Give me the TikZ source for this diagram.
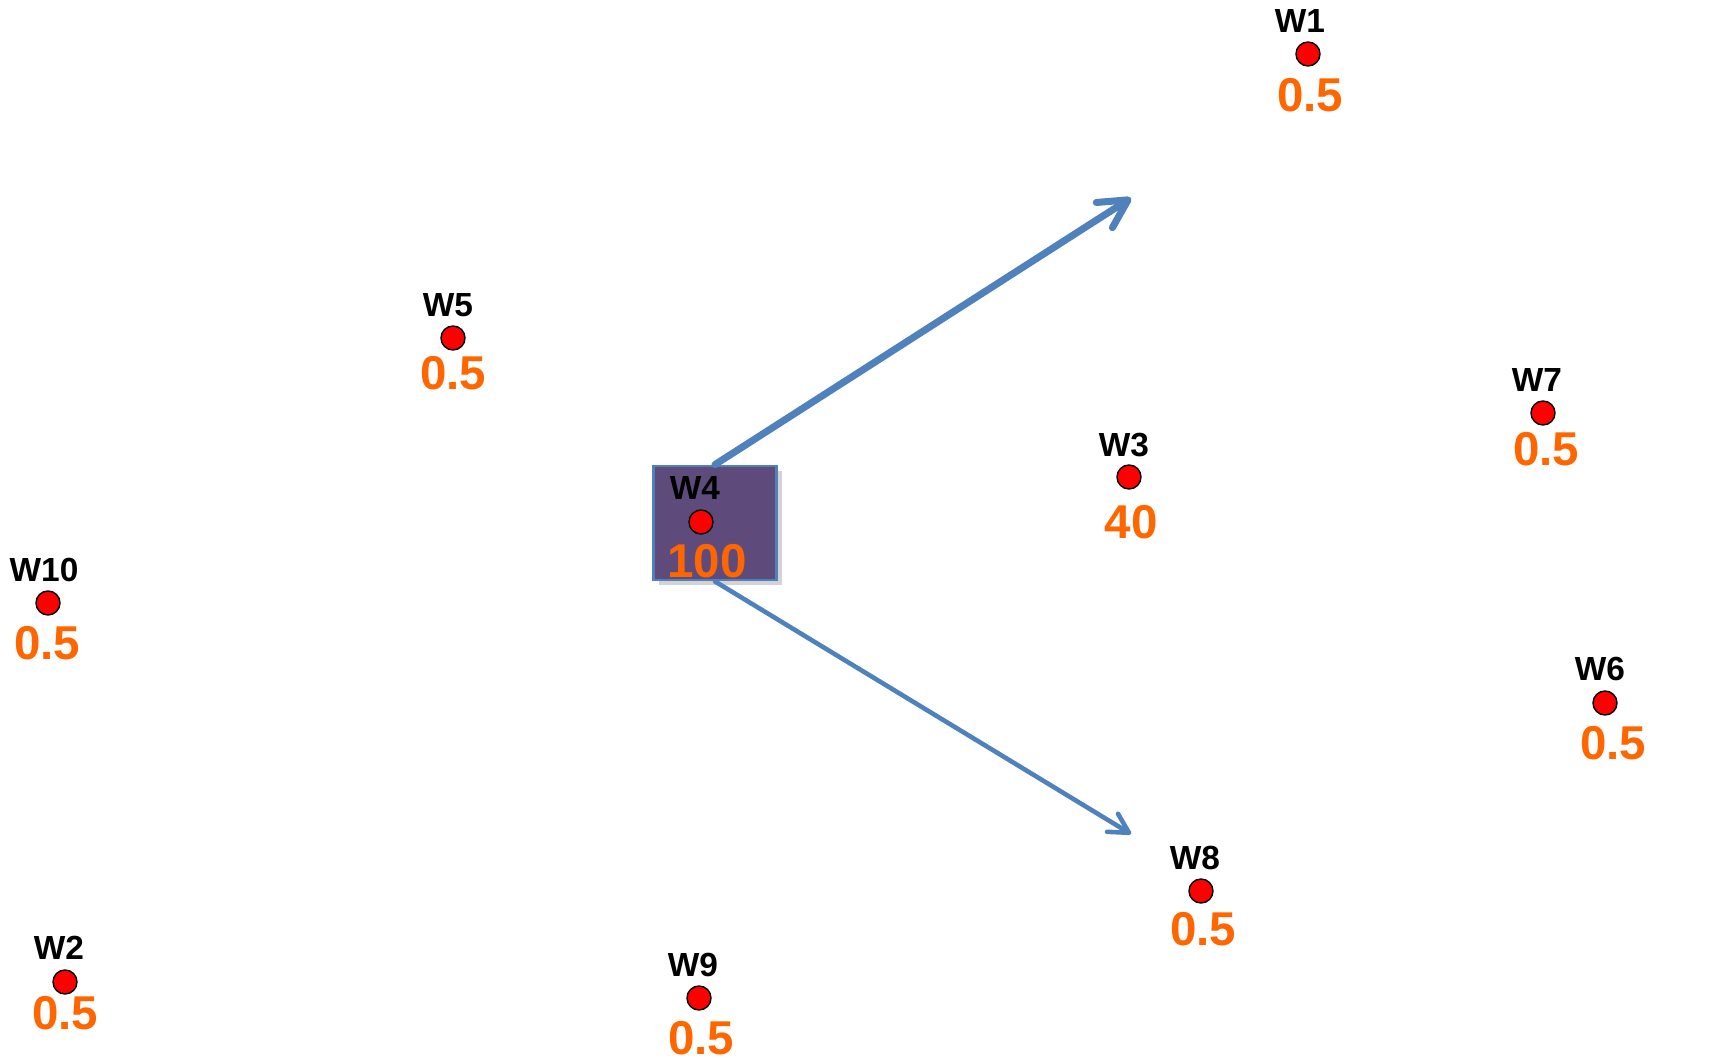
\documentclass[tikz,border=0pt]{standalone}
\usepackage{fontspec}
\setmainfont{Liberation Sans}
\usetikzlibrary{arrows.meta,shadows}
\definecolor{rateorange}{HTML}{FF6600}
\definecolor{boxpurple}{HTML}{5F4B7B}
\definecolor{arrowblue}{HTML}{4F81BD}
\begin{document}
\begin{tikzpicture}[x=0.01cm,y=-0.01cm,
  well/.style={circle,draw=black,fill=red,minimum size=0.24cm,inner sep=0pt,line width=0.4pt},
  wname/.style={font=\fontsize{9.5}{11}\selectfont\bfseries,inner sep=0pt},
  rate/.style={font=\fontsize{13.5}{16}\selectfont\bfseries,text=rateorange,inner sep=0pt}]
\useasboundingbox (0,0) rectangle (1717,1064);
% injection well box
\node[draw=arrowblue,line width=0.8pt,fill=boxpurple,minimum width=1.23cm,minimum height=1.14cm,drop shadow={opacity=0.35,shadow xshift=1.5pt,shadow yshift=-1.5pt}] (box) at (715,523) {};
\coordinate (up) at (1131,198);
\coordinate (down) at (1131,834);
\draw[arrowblue,line width=2pt,line cap=round,-{Straight Barb[length=8pt,width=8.5pt,round]}] (box.north) -- (up);
\draw[arrowblue,line width=1.3pt,line cap=round,-{Straight Barb[length=5.5pt,width=6pt,round]}] (box.south) -- (down);
% wells
\node[well] (w1) at (1308,54) {};
\node[wname] (w1n) at (1300,21) {W1};
\node[rate] (w1r) at (1310,95) {0.5};
\node[well] (w2) at (65,982) {};
\node[wname] (w2n) at (59,948) {W2};
\node[rate] (w2r) at (65,1013) {0.5};
\node[well] (w3) at (1129,477) {};
\node[wname] (w3n) at (1124,445) {W3};
\node[rate] (w3r) at (1131,522) {40};
\node[well] (w4) at (701,522) {};
\node[wname] (w4n) at (695,488) {W4};
\node[rate] (w4r) at (707,561) {100};
\node[well] (w5) at (453,338) {};
\node[wname] (w5n) at (448,305) {W5};
\node[rate] (w5r) at (453,373) {0.5};
\node[well] (w6) at (1605,703) {};
\node[wname] (w6n) at (1600,669) {W6};
\node[rate] (w6r) at (1613,743) {0.5};
\node[well] (w7) at (1543,413) {};
\node[wname] (w7n) at (1537,380) {W7};
\node[rate] (w7r) at (1546,449) {0.5};
\node[well] (w8) at (1201,891) {};
\node[wname] (w8n) at (1195,858) {W8};
\node[rate] (w8r) at (1203,929) {0.5};
\node[well] (w9) at (699,998) {};
\node[wname] (w9n) at (693,965) {W9};
\node[rate] (w9r) at (701,1038) {0.5};
\node[well] (w10) at (48,603) {};
\node[wname] (w10n) at (44,570) {W10};
\node[rate] (w10r) at (47,643) {0.5};
\end{tikzpicture}
\end{document}
